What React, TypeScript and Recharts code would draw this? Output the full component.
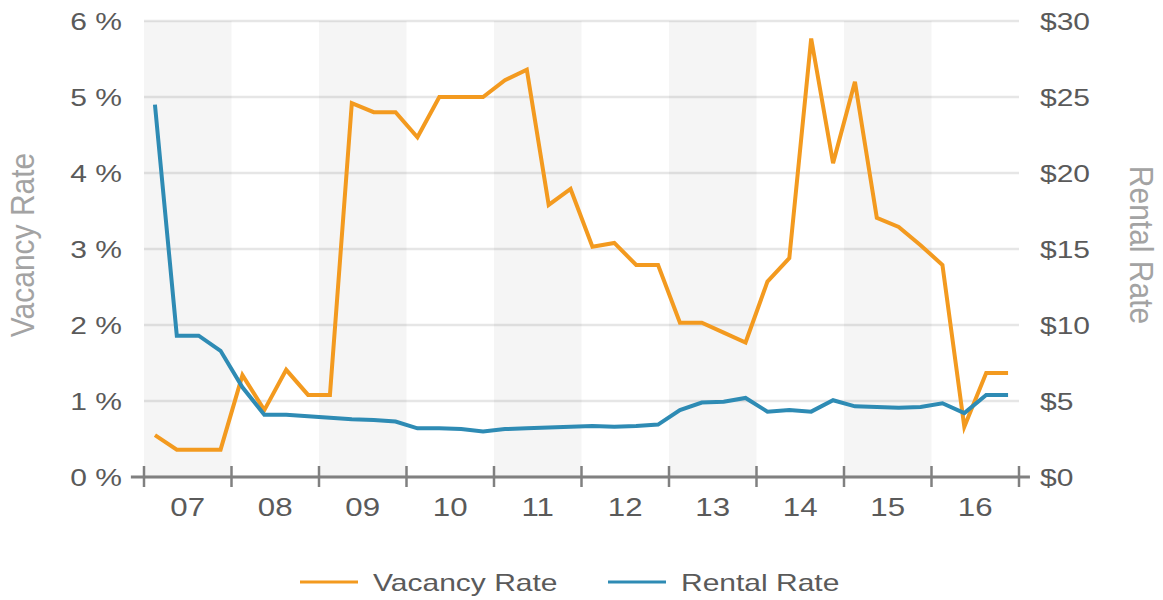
import {
  CartesianGrid,
  Label,
  Legend,
  Line,
  LineChart,
  ReferenceArea,
  ReferenceLine,
  XAxis,
  YAxis,
} from "recharts";

const years = ["07", "08", "09", "10", "11", "12", "13", "14", "15", "16"];

// quarterly values, 4 per year
const vacancyRate = [
  0.55, 0.36, 0.36, 0.36,
  1.34, 0.88, 1.41, 1.08,
  1.08, 4.92, 4.8, 4.8,
  4.47, 5.0, 5.0, 5.0,
  5.22, 5.36, 3.58, 3.79,
  3.03, 3.08, 2.79, 2.79,
  2.03, 2.03, 1.9, 1.77,
  2.57, 2.88, 5.77, 4.13,
  5.2, 3.41, 3.29, 3.05,
  2.79, 0.66, 1.37, 1.37,
];

const rentalRate = [
  24.5, 9.3, 9.3, 8.3,
  5.9, 4.1, 4.1, 4.0,
  3.9, 3.8, 3.75, 3.65,
  3.2, 3.2, 3.15, 3.0,
  3.15, 3.2, 3.25, 3.3,
  3.35, 3.3, 3.35, 3.45,
  4.4, 4.9, 4.95, 5.2,
  4.3, 4.4, 4.3, 5.05,
  4.65, 4.6, 4.55, 4.6,
  4.85, 4.2, 5.4, 5.4,
];

const vacancyTicks = [0, 1, 2, 3, 4, 5, 6];
const rentalTicks = [0, 5, 10, 15, 20, 25, 30];

const rows = vacancyRate.map((v, i) => ({
  quarter: `${years[Math.floor(i / 4)]} Q${(i % 4) + 1}`,
  t: i + 0.5,
  vacancy: v,
  rental: rentalRate[i],
}));

const quarterCount = years.length * 4;
const yearEdges = [...years.map((_, i) => i * 4), quarterCount];
const yearMids = years.map((_, i) => i * 4 + 2);

const FONT = "'Liberation Sans', Arial, sans-serif";
const STRETCH = 1.25;
const ORANGE = "#f39a1f";
const BLUE = "#2e8bb4";
const AXIS = "#808080";
const TICK_TEXT = "#5a5a5a";
const TITLE_TEXT = "#a3a3a3";

const series = [
  { name: "Vacancy Rate", color: ORANGE },
  { name: "Rental Rate", color: BLUE },
];

const LeftTick = (props: any) => (
  <text
    transform={`translate(${props.x},${props.y}) scale(${STRETCH},1)`}
    textAnchor="end"
    dy={8.5}
    fontSize={24}
    fontFamily={FONT}
    fill={TICK_TEXT}
  >
    {`${props.payload.value} %`}
  </text>
);

const RightTick = (props: any) => (
  <text
    transform={`translate(${props.x},${props.y}) scale(${STRETCH},1)`}
    textAnchor="start"
    dy={8.5}
    fontSize={24}
    fontFamily={FONT}
    fill={TICK_TEXT}
  >
    {`$${props.payload.value}`}
  </text>
);

const EdgeTick = (props: any) => (
  <line x1={props.x} x2={props.x} y1={props.y - 11} y2={props.y + 10} stroke={AXIS} strokeWidth={2.5} />
);

const YearTick = (props: any) => {
  const label = years[(props.payload.value - 2) / 4];
  return (
    <text
      transform={`translate(${props.x},${props.y}) scale(${STRETCH},1)`}
      textAnchor="middle"
      dy={29}
      fontSize={25}
      fontFamily={FONT}
      fill={TICK_TEXT}
    >
      {label}
    </text>
  );
};

const vacancyTitle = (props: any) => {
  const vb = props.viewBox ?? { x: 0, y: 21, width: 144, height: 456 };
  const cy = vb.y + vb.height / 2 - 4;
  return (
    <text
      transform={`translate(${vb.x + 34},${cy}) scale(1.12,1) rotate(-90)`}
      textAnchor="middle"
      fontSize={30}
      fontFamily={FONT}
      fill={TITLE_TEXT}
    >
      Vacancy Rate
    </text>
  );
};

const rentalTitle = (props: any) => {
  const vb = props.viewBox ?? { x: 1019, y: 21, width: 144, height: 456 };
  const cy = vb.y + vb.height / 2 - 4;
  return (
    <text
      transform={`translate(${vb.x + 111},${cy}) scale(1.12,1) rotate(90)`}
      textAnchor="middle"
      fontSize={30}
      fontFamily={FONT}
      fill={TITLE_TEXT}
    >
      Rental Rate
    </text>
  );
};

const legendStarts = [300, 608];

const renderLegend = () => (
  <svg width={1163} height={36} style={{ display: "block" }}>
    {series.map((item, i) => (
      <g key={item.name}>
        <line x1={legendStarts[i]} x2={legendStarts[i] + 58} y1={18} y2={18} stroke={item.color} strokeWidth={3} />
        <text
          transform={`translate(${legendStarts[i] + 73},18) scale(${STRETCH},1)`}
          dy={8.5}
          fontSize={24}
          fontFamily={FONT}
          fill={TICK_TEXT}
        >
          {item.name}
        </text>
      </g>
    ))}
  </svg>
);

export default function App() {
  return (
    <div style={{ position: "absolute", left: 0, top: 0, background: "#fff" }}>
      <LineChart width={1163} height={600} data={rows} margin={{ top: 21, right: 0, bottom: 0, left: 0 }}>
        <CartesianGrid xAxisId="a" yAxisId="v" vertical={false} stroke="#e6e6e6" strokeWidth={2.5} />
        {years.map((y, i) =>
          i % 2 === 0 ? (
            <ReferenceArea
              key={y}
              xAxisId="a"
              yAxisId="v"
              x1={i * 4}
              x2={i * 4 + 4}
              y1={0}
              y2={6}
              fill="#000"
              fillOpacity={0.04}
              stroke="none"
              ifOverflow="visible"
            />
          ) : null
        )}
        <XAxis
          xAxisId="a"
          type="number"
          dataKey="t"
          domain={[0, quarterCount]}
          ticks={yearEdges}
          interval={0}
          height={10}
          tickSize={0}
          tickMargin={0}
          axisLine={false}
          tickLine={false}
          tick={EdgeTick}
        />
        <XAxis
          xAxisId="b"
          type="number"
          dataKey="t"
          domain={[0, quarterCount]}
          ticks={yearMids}
          interval={0}
          height={77}
          tickSize={0}
          tickMargin={0}
          axisLine={false}
          tickLine={false}
          tick={YearTick}
        />
        <YAxis
          yAxisId="v"
          domain={[0, 6]}
          ticks={vacancyTicks}
          interval={0}
          width={144}
          tickSize={0}
          tickMargin={22}
          axisLine={false}
          tickLine={false}
          tick={LeftTick}
        >
          <Label content={vacancyTitle} />
        </YAxis>
        <YAxis
          yAxisId="r"
          orientation="right"
          domain={[0, 30]}
          ticks={rentalTicks}
          interval={0}
          width={144}
          tickSize={0}
          tickMargin={21}
          axisLine={false}
          tickLine={false}
          tick={RightTick}
        >
          <Label content={rentalTitle} />
        </YAxis>
        <ReferenceLine
          xAxisId="a"
          yAxisId="v"
          segment={[
            { x: -0.6, y: 0 },
            { x: quarterCount + 0.5, y: 0 },
          ]}
          stroke={AXIS}
          strokeWidth={3}
          ifOverflow="visible"
        />
        <Line
          xAxisId="a"
          yAxisId="v"
          type="linear"
          dataKey="vacancy"
          name="Vacancy Rate"
          stroke={ORANGE}
          strokeWidth={4}
          dot={false}
          isAnimationActive={false}
        />
        <Line
          xAxisId="a"
          yAxisId="r"
          type="linear"
          dataKey="rental"
          name="Rental Rate"
          stroke={BLUE}
          strokeWidth={4}
          dot={false}
          isAnimationActive={false}
        />
        <Legend verticalAlign="bottom" height={36} content={renderLegend} wrapperStyle={{ left: 0, bottom: 0 }} />
      </LineChart>
    </div>
  );
}
